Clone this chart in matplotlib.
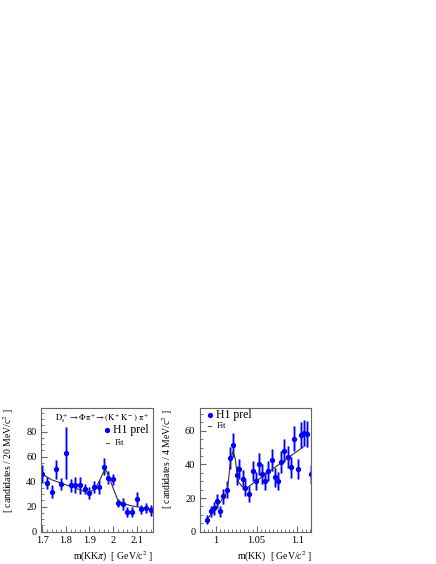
import matplotlib
matplotlib.use("Agg")
import matplotlib.pyplot as plt
from matplotlib.ticker import MultipleLocator

plt.rcParams["font.family"] = ["Liberation Serif", "DejaVu Serif"]
plt.rcParams["mathtext.fontset"] = "stix"

# D_s -> phi pi : m(KKpi) spectrum
ds_mass = [1.70, 1.72, 1.74, 1.76, 1.78, 1.80, 1.82, 1.84, 1.86, 1.88, 1.90, 1.92,
           1.94, 1.96, 1.98, 2.00, 2.02, 2.04, 2.06, 2.08, 2.10, 2.12, 2.14, 2.16]
ds_counts = [46, 39, 32, 50, 38, 63, 37, 37, 37, 34, 31, 36,
             36, 52, 43, 42, 23, 22, 16, 16, 26, 18, 19, 17]
ds_err = [7.0, 4.5, 5.0, 7.6, 4.7, 21.0, 5.3, 6.4, 6.7, 4.0, 5.0, 4.7,
          5.5, 6.7, 5.2, 4.3, 3.0, 4.7, 4.0, 4.0, 5.5, 3.5, 4.3, 4.3]
ds_fit_x = [1.693, 1.74, 1.80, 1.84, 1.88, 1.894, 1.92, 1.94, 1.955, 1.964, 1.972,
            1.985, 2.00, 2.02, 2.04, 2.08, 2.12, 2.168]
ds_fit_y = [46.9, 41.5, 37.5, 35.0, 32.0, 31.3, 33.5, 39.6, 46.0, 49.5, 48.5,
            42.8, 35.0, 25.4, 22.7, 20.6, 19.3, 18.0]

# phi -> KK : m(KK) spectrum
phi_mass = [0.9897, 0.9939, 0.9976, 1.001, 1.005, 1.009, 1.0135, 1.0175, 1.0216,
            1.0257, 1.029, 1.033, 1.036, 1.041, 1.045, 1.049, 1.053, 1.0564, 1.060,
            1.0645, 1.0686, 1.0727, 1.076, 1.080, 1.084, 1.088, 1.092, 1.096,
            1.1005, 1.1045, 1.108, 1.112, 1.117]
phi_counts = [7.2, 12, 13.8, 18, 12, 21, 25, 44, 51.4,
              33.4, 37.2, 31.2, 26.2, 22.2, 36.2, 30.2, 40.2, 34.2, 30.2,
              36.2, 42.4, 32.2, 30.2, 41.4, 48.2, 44.2, 38.2, 55.3,
              37.2, 57.5, 58.5, 58.0, 34.0]
phi_err = [2.7, 3.5, 3.7, 4.2, 3.5, 4.6, 5.0, 6.6, 7.2,
           5.8, 6.1, 5.6, 5.1, 4.7, 6.0, 5.5, 6.3, 5.8, 5.5,
           6.0, 6.5, 5.7, 5.5, 6.4, 6.9, 6.6, 6.2, 7.4,
           6.1, 7.6, 7.6, 7.6, 5.8]
phi_fit_x = [0.991, 0.999, 1.007, 1.0135, 1.0155, 1.0175, 1.0196, 1.021, 1.0237,
             1.0257, 1.0278, 1.032, 1.036, 1.038, 1.06, 1.08, 1.1074]
phi_fit_y = [8.3, 13.6, 18.6, 23.6, 30.6, 39.6, 45.6, 47.5, 43.6,
             35.6, 29.6, 26.9, 26.2, 26.0, 33.8, 40.9, 50.5]

BLUE = "#0000ff"
LIGHT = "#9a9aff"
AXC = "#666666"


def style_axes(ax, major_x, minor_x, major_y, minor_y):
    for sp in ax.spines.values():
        sp.set_color(AXC)
        sp.set_linewidth(0.8)
    ax.xaxis.set_major_locator(MultipleLocator(major_x))
    ax.xaxis.set_minor_locator(MultipleLocator(minor_x))
    ax.yaxis.set_major_locator(MultipleLocator(major_y))
    ax.yaxis.set_minor_locator(MultipleLocator(minor_y))
    ax.tick_params(which="both", direction="in", top=False, right=False, color=AXC, labelsize=7.5, pad=3)
    ax.tick_params(which="major", length=4)
    ax.tick_params(which="minor", length=2)


def draw_points(ax, x, y, e):
    ax.errorbar(x, y, yerr=e, fmt="none", ecolor=LIGHT, elinewidth=2.2, capsize=0)
    ax.errorbar(x, y, yerr=e, fmt="o", color=BLUE, ms=2.8, ecolor=BLUE, elinewidth=0.8, capsize=0)


fig = plt.figure(figsize=(4.36, 5.64), dpi=100)

ax1 = fig.add_axes([0.0933, 0.0573, 0.2569, 0.2193])
draw_points(ax1, ds_mass, ds_counts, ds_err)
ax1.plot(ds_fit_x, ds_fit_y, color="#333333", lw=0.8)
ax1.set_xlim(1.693, 2.168)
ax1.set_ylim(0, 99)
style_axes(ax1, 0.1, 0.02, 20, 5)
ax1.set_xticks([1.7, 1.8, 1.9, 2.0, 2.1])
ax1.set_xticklabels(["1.7", "1.8", "1.9", "2", "2.1"])

ax1.text(0.97, 0.92, r"$\mathrm{D_s^+\rightarrow\Phi\pi^+\!\!\rightarrow(K^+K^-)\ \pi^+}$",
         transform=ax1.transAxes, ha="right", va="center", fontsize=6.3)
ax1.plot([0.595], [0.82], "o", color=BLUE, ms=2.8, transform=ax1.transAxes)
ax1.text(0.645, 0.82, "H1 prel", transform=ax1.transAxes, ha="left", va="center", fontsize=8.5)
ax1.plot([0.585, 0.61], [0.715, 0.715], color="#555555", lw=0.8, transform=ax1.transAxes)
ax1.text(0.665, 0.715, "Fit", transform=ax1.transAxes, ha="left", va="center", fontsize=6)

fig.text(153 / 436, 1 - 557 / 564, r"m(KK$\pi$)  [ GeV/c$^2$ ]", ha="right", va="center", fontsize=7)
fig.text(9 / 436, 1 - 408 / 564, r"[ candidates / 20 MeV/c$^2$ ]", rotation=90,
         ha="center", va="top", fontsize=7)

ax2 = fig.add_axes([0.4576, 0.0573, 0.2564, 0.2193])
draw_points(ax2, phi_mass, phi_counts, phi_err)
ax2.plot(phi_fit_x, phi_fit_y, color="#333333", lw=0.8)
ax2.set_xlim(0.98, 1.117)
ax2.set_ylim(0, 73.5)
style_axes(ax2, 0.05, 0.005, 20, 5)
ax2.set_xticks([1.0, 1.05, 1.1])
ax2.set_xticklabels(["1", "1.05", "1.1"])

ax2.plot([0.09], [0.94], "o", color=BLUE, ms=2.8, transform=ax2.transAxes)
ax2.text(0.15, 0.94, "H1 prel", transform=ax2.transAxes, ha="left", va="center", fontsize=8.5)
ax2.plot([0.08, 0.105], [0.855, 0.855], color="#555555", lw=0.8, transform=ax2.transAxes)
ax2.text(0.15, 0.855, "Fit", transform=ax2.transAxes, ha="left", va="center", fontsize=6)

fig.text(312 / 436, 1 - 557 / 564, r"m(KK)  [ GeV/c$^2$ ]", ha="right", va="center", fontsize=7)
fig.text(168 / 436, 1 - 409 / 564, r"[ candidates / 4 MeV/c$^2$ ]", rotation=90,
         ha="center", va="top", fontsize=7)

fig.savefig("out.png", dpi=100)
